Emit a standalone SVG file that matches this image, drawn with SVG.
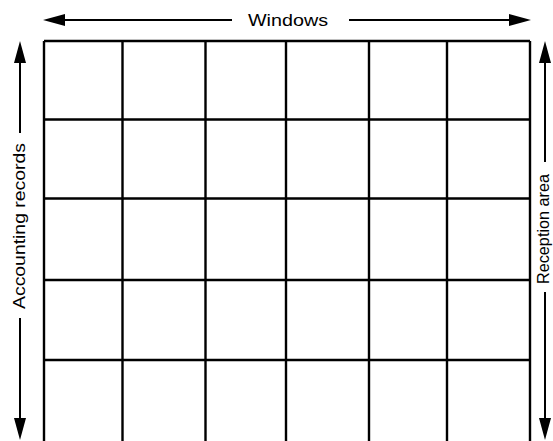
<svg xmlns="http://www.w3.org/2000/svg" width="553" height="441" viewBox="0 0 553 441">
<style>
.g{stroke:#000;stroke-width:2.4;fill:none}
.a{stroke:#000;stroke-width:2;fill:none}
.h{fill:#000;stroke:none}
text{font-family:"Liberation Sans",Arial,sans-serif;font-size:16px;fill:#000}
</style>
<rect width="553" height="441" fill="#fff"/>
<g id="grid">
<path class="g" d="M44,41H530M44,119.5H530M44,198.5H530M44,280H530M44,360H530"/>
<path class="g" d="M44,41V441M122.5,41V441M205.5,41V441M286,41V441M369,41V441M447,41V441M530,41V441"/>
</g>
<g id="connectors">
<path class="a" d="M60,20H232M349,20H513"/>
<polygon class="h" points="43,20 65,14 65,26"/>
<polygon class="h" points="531,20 509,14 509,26"/>
<path class="a" d="M20,58V133M20,318V424"/>
<polygon class="h" points="20,41 14,63 26,63"/>
<polygon class="h" points="20,440 14,418 26,418"/>
<path class="a" d="M545,58V162M545,292V424"/>
<polygon class="h" points="545,41 539,63 551,63"/>
<polygon class="h" points="545,440 539,418 551,418"/>
</g>
<g id="labels">
<text x="288" y="26" text-anchor="middle" textLength="80" lengthAdjust="spacingAndGlyphs">Windows</text>
<text transform="translate(25,226) rotate(-90)" text-anchor="middle" textLength="166" lengthAdjust="spacingAndGlyphs">Accounting records</text>
<text transform="translate(549,229) rotate(-90)" text-anchor="middle" textLength="110" lengthAdjust="spacingAndGlyphs">Reception area</text>
</g>
</svg>
